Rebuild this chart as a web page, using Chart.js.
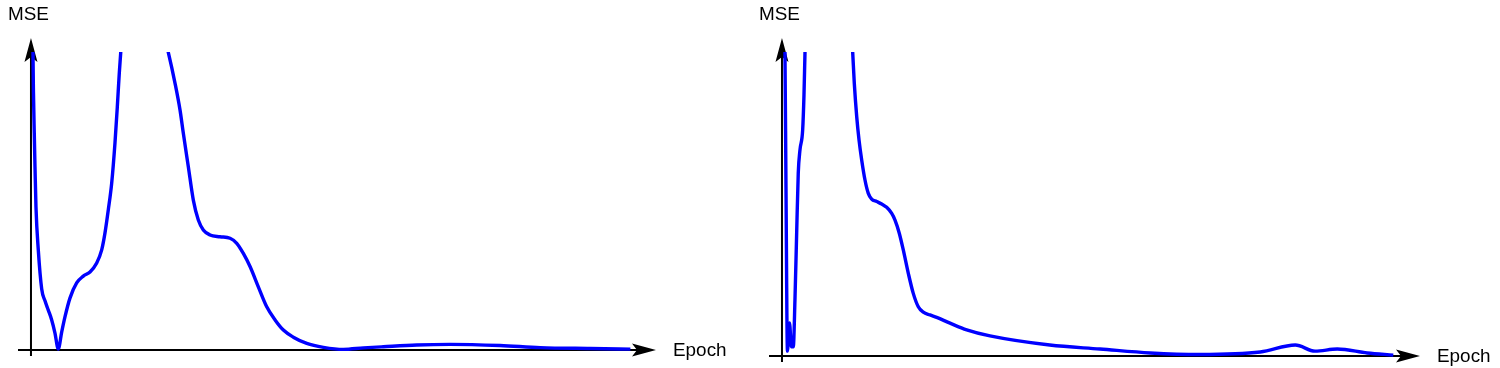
<!DOCTYPE html>
<html>
<head>
<meta charset="utf-8">
<script src="https://cdn.jsdelivr.net/npm/chart.js@4/dist/chart.umd.min.js"></script>
<style>
    html, body { margin: 0; padding: 0; background: #fff; }
    #wrap { position: relative; width: 1500px; height: 368px; }
    canvas { position: absolute; top: 0; }
    #left { left: 0; }
    #right { left: 750px; }
</style>
</head>
<body>
<div id="wrap">
    <canvas id="left" width="750" height="368"></canvas>
    <canvas id="right" width="750" height="368"></canvas>
</div>
<script>
const LINE_COLOR = "#0000ff";

// left panel (values above 1 leave the plot through the top)
const epochA = [
    0.25, 0.33, 0.41, 0.54, 0.66, 0.82, 1.2, 1.76, 2.3, 2.84, 3.4, 3.94, 4.48, 5.04,
    5.58, 6.4, 7.5, 8.59, 9.69, 10.79, 11.61, 12.15, 12.69, 13.25, 13.79, 14.17, 14.5, 14.73,
    15.5, 17.5, 22.55, 23.65, 24.47, 25.01, 25.83, 26.65, 27.47, 28.29, 29.39, 31.03, 32.68,
    33.78, 34.86, 35.96, 37.32, 38.7, 40.07, 41.43, 43.07, 45.27, 48.0, 51.28, 54.57, 57.85,
    63.33, 68.8, 77.0, 83.6, 91.8, 98.4
];
const mseA = [
    1.3, 0.997, 0.862, 0.728, 0.614, 0.48, 0.336, 0.205, 0.165, 0.134, 0.101, 0.057, 0.003, 0.06,
    0.111, 0.174, 0.225, 0.248, 0.262, 0.292, 0.336, 0.393, 0.47, 0.56, 0.695, 0.815, 0.93, 0.997,
    1.25, 1.4, 0.998, 0.895, 0.805, 0.727, 0.615, 0.503, 0.436, 0.403, 0.386, 0.38, 0.375,
    0.358, 0.324, 0.28, 0.212, 0.145, 0.101, 0.067, 0.043, 0.022, 0.009, 0.002, 0.007, 0.011,
    0.017, 0.019, 0.015, 0.008, 0.005, 0.003
];

// right panel
const epochB = [
    0.2, 0.47, 0.63, 0.86, 1.18, 1.49, 1.78, 2.04, 2.31, 2.56, 2.83, 3.25, 3.46, 3.62,
    4.3, 7.0, 9.5, 11.12, 11.37, 11.75, 12.11, 12.53, 13.05, 13.57, 14.1, 14.89, 15.68,
    16.46, 17.25, 17.77, 18.44, 19.07, 19.86, 20.64, 21.43, 22.22, 23.27, 24.32, 26.42,
    29.04, 32.7, 42.1, 50.0, 57.9, 65.7, 75.2, 80.7, 83.8, 87.3, 92.0, 96.1
];
const mseB = [
    1.2, 1.0, 0.556, 0.016, 0.109, 0.03, 0.03, 0.184, 0.405, 0.602, 0.678, 0.743, 0.859, 1.0,
    1.5, 1.9, 1.6, 0.998, 0.897, 0.787, 0.711, 0.645, 0.579, 0.535, 0.516, 0.508, 0.5,
    0.489, 0.469, 0.447, 0.404, 0.349, 0.272, 0.206, 0.162, 0.144, 0.135, 0.127, 0.108,
    0.086, 0.066, 0.036, 0.023, 0.01, 0.005, 0.013, 0.036, 0.016, 0.023, 0.01, 0.003
];

const AXIS_TITLE_X = "Epoch";
const AXIS_TITLE_Y = "MSE";

function arrowHead(ctx, tx, ty, dir) {
    // dir: "right" or "up"
    const len = 24, half = 6.5, notch = 5;
    ctx.beginPath();
    if (dir === "right") {
        ctx.moveTo(tx, ty);
        ctx.lineTo(tx - len, ty - half);
        ctx.lineTo(tx - len + notch, ty);
        ctx.lineTo(tx - len, ty + half);
    } else {
        ctx.moveTo(tx, ty);
        ctx.lineTo(tx - half, ty + len);
        ctx.lineTo(tx, ty + len - notch);
        ctx.lineTo(tx + half, ty + len);
    }
    ctx.closePath();
    ctx.fill();
}

function drawText(ctx, text, x, y) {
    ctx.save();
    ctx.translate(x, y);
    ctx.scale(1.05, 1);
    ctx.fillText(text, 0, 0);
    ctx.restore();
}

const arrowAxes = {
    id: "arrowAxes",
    beforeDatasetsDraw(chart) {
        const { ctx, chartArea, scales } = chart;
        const x0 = scales.x.getPixelForValue(0);
        const y0 = scales.y.getPixelForValue(0);
        ctx.save();
        ctx.strokeStyle = "#000";
        ctx.fillStyle = "#000";
        ctx.lineWidth = 2;

        ctx.beginPath();
        ctx.moveTo(chartArea.left, y0);
        ctx.lineTo(chartArea.right - 10, y0);
        ctx.moveTo(x0, y0 + 6);
        ctx.lineTo(x0, chartArea.top - 3);
        ctx.stroke();

        arrowHead(ctx, chartArea.right, y0, "right");
        arrowHead(ctx, x0, chartArea.top - 14, "up");

        ctx.font = "18px 'Liberation Sans', Arial, sans-serif";
        ctx.textBaseline = "alphabetic";
        drawText(ctx, AXIS_TITLE_X, chartArea.right + 17, y0 + 6);
        drawText(ctx, AXIS_TITLE_Y, x0 - 23, chartArea.top - 32);
        ctx.restore();
    },
};

function makeChart(id, epochs, mse, xMin, xMax, padding) {
    const points = epochs.map((e, i) => ({ x: e, y: mse[i] }));
    return new Chart(document.getElementById(id), {
        type: "line",
        data: {
            datasets: [{
                data: points,
                borderColor: LINE_COLOR,
                borderWidth: 3.4,
                pointRadius: 0,
                fill: false,
                cubicInterpolationMode: "monotone",
                clip: { left: false, right: false, top: 0, bottom: false },
            }],
        },
        options: {
            responsive: false,
            animation: false,
            devicePixelRatio: 1,
            layout: { padding },
            scales: {
                x: { type: "linear", min: xMin, max: xMax, display: false },
                y: { type: "linear", min: 0, max: 1, display: false },
            },
            plugins: {
                legend: { display: false },
                tooltip: { enabled: false },
            },
        },
        plugins: [arrowAxes],
    });
}

makeChart("left", epochA, mseA, -2.13, 102.6, { left: 18, right: 94, top: 52, bottom: 18 });
makeChart("right", epochB, mseB, -2.04, 100.3, { left: 19, right: 80, top: 52, bottom: 12 });
</script>
</body>
</html>
